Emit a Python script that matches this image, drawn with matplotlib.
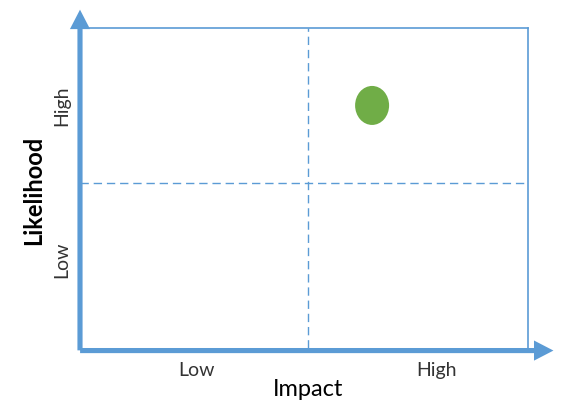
"""
Risk matrix: likelihood vs impact, one risk plotted.
"""

import matplotlib
matplotlib.use("Agg")
import matplotlib.pyplot as plt
from matplotlib.patches import Ellipse, FancyArrowPatch

# data (axes run 0..1 on both scales)
x_ticklabels = ["Low", "High"]
x_tickpos = [0.26, 0.795]
y_ticklabels = ["Low", "High"]
y_tickpos = [0.28, 0.76]
x_split = 0.509
y_split = 0.516
risk_impact = [0.652]
risk_likelihood = [0.758]

BLUE = "#5B9BD5"
GREEN = "#70AD47"

plt.rcParams["font.family"] = ["Lato", "DejaVu Sans"]

fig = plt.figure(figsize=(5.62, 4.02), dpi=100)
ax = fig.add_axes([80 / 562, 53 / 402, 448 / 562, 320 / 402])
ax.set_xlim(0, 1)
ax.set_ylim(0, 1)

for side in ["left", "bottom"]:
    ax.spines[side].set_visible(False)
for side in ["top", "right"]:
    ax.spines[side].set_color(BLUE)
    ax.spines[side].set_linewidth(1.2)

ax.set_xticks([])
ax.set_yticks([])

# quadrant dividers
ax.axvline(x_split, color=BLUE, lw=1.0, dashes=(6, 3.5))
ax.axhline(y_split, color=BLUE, lw=1.0, dashes=(6, 3.5))

# risks
for xi, yi in zip(risk_impact, risk_likelihood):
    ax.add_patch(Ellipse((xi, yi), 34 / 448, 39 / 320, color=GREEN, lw=0))

# thick axis arrows
arrow_style = "simple,tail_width=0.37,head_width=1.45,head_length=1.4"
for start, end in [((-0.006, -0.008), (1.063, -0.008)),
                   ((-0.0, -0.016), (-0.0, 1.066))]:
    ax.add_patch(FancyArrowPatch(start, end, transform=ax.transAxes,
                                 arrowstyle=arrow_style, mutation_scale=10,
                                 color=BLUE, lw=0, clip_on=False))

# labels
for pos, lab in zip(x_tickpos, x_ticklabels):
    ax.text(pos, -0.068, lab, transform=ax.transAxes, ha="center",
            va="center", fontsize=14, color="#333333")
for pos, lab in zip(y_tickpos, y_ticklabels):
    ax.text(-0.04, pos, lab, transform=ax.transAxes, ha="center",
            va="center", fontsize=14, rotation=90, color="#333333")

ax.text(0.51, -0.128, "Impact", transform=ax.transAxes, ha="center",
        va="center", fontsize=17, color="black")
ax.text(-0.103, 0.495, "Likelihood", transform=ax.transAxes, ha="center",
        va="center", fontsize=17, rotation=90, color="black",
        fontweight="bold")

fig.savefig("out.png", dpi=100)
